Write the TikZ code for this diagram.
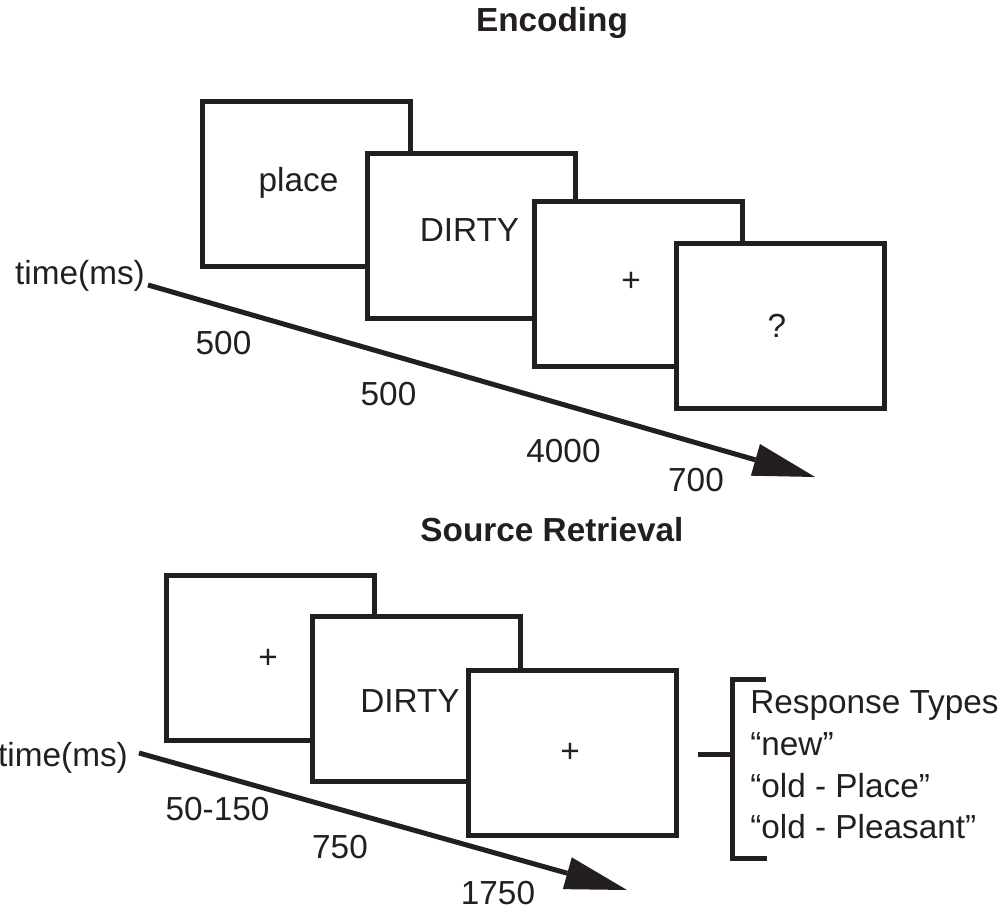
\documentclass[tikz,border=0pt]{standalone}
\usepackage{fontspec}
\setmainfont{Liberation Sans}
\usetikzlibrary{arrows.meta}
\definecolor{ink}{HTML}{231F20}
\begin{document}
\begin{tikzpicture}[x=0.75pt,y=-0.75pt,
  screen/.style={draw=ink, line width=3.75pt, fill=white, minimum width=156pt,
    minimum height=123.75pt, inner sep=0pt, outer sep=0pt},
  txt/.style={font=\fontsize{25}{30}\selectfont, inner sep=0pt, text=ink},
  ttl/.style={font=\fontsize{25}{30}\selectfont\bfseries, inner sep=0pt, text=ink},
  timeline/.style={draw=ink, line width=3.75pt,
    -{Triangle[length=46.5pt,width=24.75pt,line width=0pt]}},
  brk/.style={draw=ink, line width=3.75pt}]
\useasboundingbox (0,0) rectangle (1000,917);

% ---------- Encoding ----------
\node[ttl] (enc) at (552,22.5) {Encoding};

\node[screen] (e1) at (306.5,184) {};
\node[txt] (e1t) at (298.5,183) {place};
\node[screen] (e2) at (471.5,235.75) {};
\node[txt] (e2t) at (469.5,230.5) {DIRTY};
\node[screen] (e3) at (638.5,284) {};
\node[txt] (e3t) at (631,282) {+};
\node[screen] (e4) at (780,326) {};
\node[txt] (e4t) at (777,325.5) {?};

\node[txt] (etime) at (80,276) {time(ms)};
\coordinate (t1s) at (148,285);
\coordinate (t1e) at (815,477);
\draw[timeline] (t1s) -- (t1e);

\node[txt] (ed1) at (223.5,343) {500};
\node[txt] (ed2) at (388.5,394.5) {500};
\node[txt] (ed3) at (563.5,451) {4000};
\node[txt] (ed4) at (696,480) {700};

% ---------- Source Retrieval ----------
\node[ttl] (src) at (552,530) {Source Retrieval};

\node[screen] (s1) at (270.25,658) {};
\node[txt] (s1t) at (268,659) {+};
\node[screen] (s2) at (416.75,698.75) {};
\node[txt] (s2t) at (410,701) {DIRTY};
\node[screen] (s3) at (572,753) {};
\node[txt] (s3t) at (570,753) {+};

\node[txt] (stime) at (63,758) {time(ms)};
\coordinate (t2s) at (139,753);
\coordinate (t2e) at (627,890);
\draw[timeline] (t2s) -- (t2e);

\node[txt] (sd1) at (217.5,809.5) {50-150};
\node[txt] (sd2) at (340,847) {750};
\node[txt] (sd3) at (498,893) {1750};

% bracket
\coordinate (bt) at (766,679.5);
\coordinate (bb) at (767,858.5);
\coordinate (bs1) at (732,754);
\coordinate (bs0) at (698,754);
\draw[brk] (bt) -- (732,679.5) -- (732,858.5) -- (bb);
\draw[brk] (bs1) -- (bs0);

\node[txt, anchor=base west] (r0) at (750,713) {Response Types};
\node[txt, anchor=base west] (r1) at (750,755) {“new”};
\node[txt, anchor=base west] (r2) at (750,797) {“old - Place”};
\node[txt, anchor=base west] (r3) at (750,838) {“old - Pleasant”};
\end{tikzpicture}
\end{document}
